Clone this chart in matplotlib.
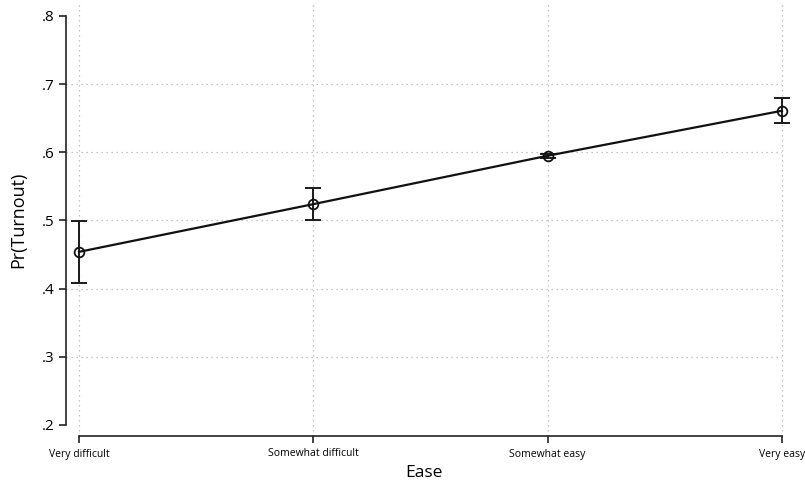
import numpy as np
import matplotlib.pyplot as plt

# predicted turnout by perceived ease of voting
ease = ["Very difficult", "Somewhat difficult", "Somewhat easy", "Very easy"]
pr_turnout = [0.454, 0.524, 0.595, 0.661]
ci_low = [0.409, 0.500, 0.592, 0.643]
ci_high = [0.499, 0.547, 0.598, 0.679]

yticks = [0.2, 0.3, 0.4, 0.5, 0.6, 0.7, 0.8]
ytick_labels = [".2", ".3", ".4", ".5", ".6", ".7", ".8"]

plt.rcParams['font.family'] = ['Open Sans', 'DejaVu Sans']

fig = plt.figure(figsize=(8.05, 4.83), dpi=100)
W, H = 805, 483
left, right, top, bottom = 66, 782, 3, 436
ax = fig.add_axes([left / W, 1 - bottom / H, (right - left) / W, (bottom - top) / H])

x = np.arange(len(ease))
# x=0 sits a little to the right of the y axis line
x0_px, x3_px = 79, 782
px_per_unit = (x3_px - x0_px) / 3
ax.set_xlim(-(x0_px - left) / px_per_unit, 3)

# y: .2 at pixel 425, .8 at pixel 16
py_per_unit = (425 - 16) / 0.6
ax.set_ylim(0.2 - (bottom - 425) / py_per_unit, 0.8 + (16 - top) / py_per_unit)

grid_kw = dict(color="#b4b4b4", linestyle=(0, (1, 3)), linewidth=0.9, zorder=0)
for yv in yticks[1:-1]:
    ax.axhline(yv, **grid_kw)
for xv in x:
    ax.axvline(xv, clip_on=False, **grid_kw)

pr = np.array(pr_turnout)
yerr = [pr - np.array(ci_low), np.array(ci_high) - pr]
ax.errorbar(x, pr, yerr=yerr, fmt="none", ecolor="#1a1a1a", elinewidth=1.4,
            capsize=5.5, capthick=1.4, clip_on=False, zorder=3)
ax.plot(x, pr, color="#111111", linewidth=1.6, clip_on=False, zorder=4)
ax.plot(x, pr, linestyle="none", marker="o", markersize=7, markerfacecolor="none",
        markeredgecolor="#111111", markeredgewidth=1.3, clip_on=False, zorder=5)

for s in ["top", "right"]:
    ax.spines[s].set_visible(False)
ax.spines["left"].set_bounds(0.2, 0.8)
ax.spines["bottom"].set_bounds(0, 3)
for s in ["left", "bottom"]:
    ax.spines[s].set_linewidth(1.2)
    ax.spines[s].set_color("#222222")

ax.set_yticks(yticks)
ax.set_yticklabels(ytick_labels, fontsize=11)
ax.set_xticks(x)
ax.set_xticklabels(ease, fontsize=7.5)
ax.tick_params(axis="y", length=5, width=1.2, color="#222222", pad=3)
ax.tick_params(axis="x", length=5, width=1.2, color="#222222", pad=4)

ax.set_ylabel("Pr(Turnout)", fontsize=13, labelpad=11)
ax.set_xlabel("Ease", fontsize=12.5, labelpad=4)

fig.savefig("out.png", dpi=100)
